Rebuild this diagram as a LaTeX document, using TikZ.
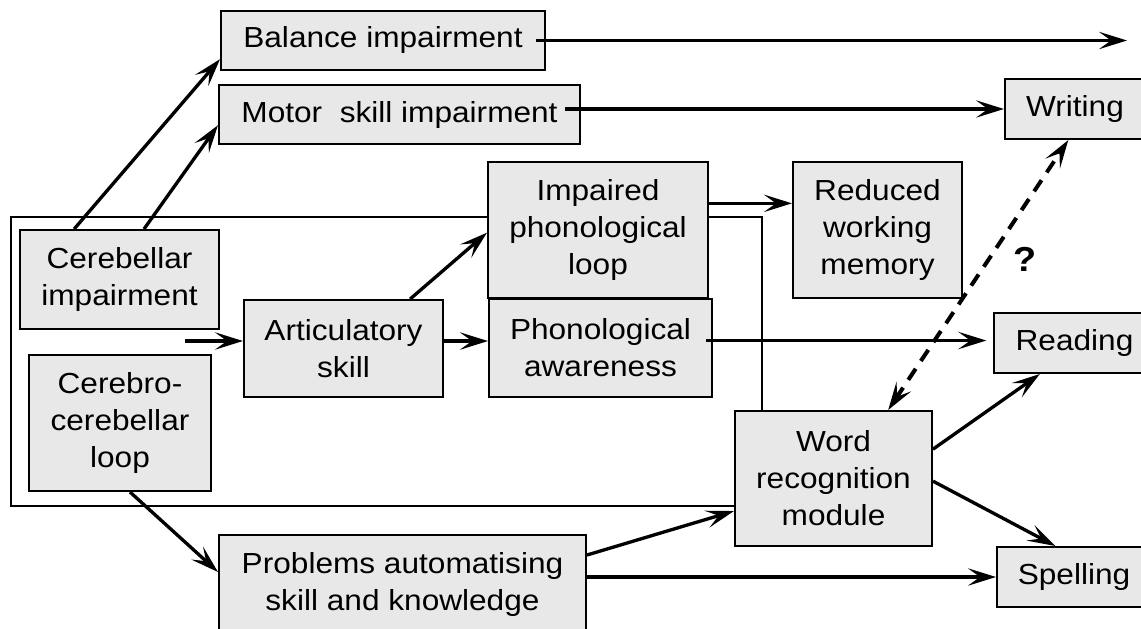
\documentclass[tikz,border=0pt]{standalone}
\usepackage{fontspec}
\setmainfont{Liberation Sans}[FakeStretch=1.09]
\usetikzlibrary{arrows.meta}

\begin{document}
\begin{tikzpicture}[x=0.75pt, y=-0.75pt,
  box/.style={draw, line width=1.5pt, fill=black!9, inner sep=0pt, align=center,
    font=\fontsize{21.75pt}{27.75pt}\selectfont},
  arr/.style={line width=2.5pt, -{Stealth[length=21pt,width=13pt,inset=9pt]}},
  dasharr/.style={line width=3pt, dash pattern=on 10pt off 7pt,
    {Stealth[length=21pt,width=13pt,inset=9pt]}-{Stealth[length=21pt,width=13pt,inset=9pt]}}]
\useasboundingbox (0,0) rectangle (1141,628);
\clip (0,0) rectangle (1141,628);
\draw[line width=1.5pt] (11,217) rectangle (762,506);
\node[box, minimum width=243pt, minimum height=44.25pt] (bal) at (383,40.5) {Balance impairment};
\node[box, minimum width=270.75pt, minimum height=44.25pt] (mot) at (399.5,114.5) {Motor\ \ skill impairment};
\node[box, minimum width=149.25pt, minimum height=74.25pt] (cer) at (119.5,279.5) {Cerebellar\\impairment};
\node[box, minimum width=136.5pt, minimum height=102pt] (cbl) at (120,423) {Cerebro-\\cerebellar\\loop};
\node[box, minimum width=149.25pt, minimum height=72.75pt] (art) at (343.5,348.5) {Articulatory\\skill};
\node[box, minimum width=165pt, minimum height=102pt] (imp) at (598,230) {Impaired\\phonological\\loop};
\node[box, minimum width=167.25pt, minimum height=73.5pt] (pho) at (600.5,348) {Phonological\\awareness};
\node[box, minimum width=126.75pt, minimum height=102pt] (red) at (877.5,230) {Reduced\\working\\memory};
\node[box, minimum width=105pt, minimum height=45pt] (wri) at (1075,109) {Writing};
\node[box, minimum width=120.75pt, minimum height=45pt] (rea) at (1074.5,343) {Reading};
\node[box, minimum width=115.5pt, minimum height=45pt] (spe) at (1074,577) {Spelling};
\node[box, minimum width=147.75pt, minimum height=101.25pt] (wrd) at (833.5,478.5) {Word\\recognition\\module};
\node[box, minimum width=275.25pt, minimum height=73.5pt] (prb) at (402.5,584) {Problems automatising\\skill and knowledge};
\node[font=\fontsize{26pt}{30pt}\selectfont\bfseries] (qm) at (1025,259) {?};
\coordinate (balend) at (1127,40.5);
\coordinate (artin) at (185,341);
\draw[arr] ([xshift=-34pt]cer.north) -- ([yshift=-14pt]bal.west);
\draw[arr] ([xshift=18.4pt]cer.north) -- ([yshift=-8pt]mot.west);
\draw[arr] ([xshift=-7.5pt]bal.east) -- (balend);
\draw[arr] ([xshift=-12pt]mot.east |- wri.west) -- (wri.west);
\draw[arr] (artin) -- (artin -| art.west);
\draw[arr] ([xshift=50pt]art.north) -- ([yshift=-2pt]imp.west);
\draw[arr] ([yshift=5.6pt]art.east) -- ([yshift=5.6pt]art.east -| pho.west);
\draw[arr] ([xshift=-5pt,yshift=5.6pt]pho.east) -- ([xshift=-5pt,yshift=5.6pt]pho.east -| rea.west);
\draw[arr] ([yshift=20pt]imp.east) -- ([yshift=20pt]imp.east -| red.west);
\draw[arr] ([xshift=7.5pt]cbl.south) -- ([yshift=9pt]prb.west);
\draw[arr] ([yshift=21.75pt]prb.east) -- ([yshift=-24.4pt]wrd.west);
\draw[arr] ([yshift=5.25pt]prb.east) -- ([yshift=5.25pt]prb.east -| spe.west);
\draw[arr] ([yshift=22pt]wrd.east) -- ([xshift=-26pt]rea.south);
\draw[arr] ([yshift=-2pt]wrd.east) -- ([xshift=-14pt]spe.north);
\draw[dasharr] ([xshift=41pt]wrd.north) -- ([xshift=-5pt]wri.south);
\end{tikzpicture}
\end{document}
